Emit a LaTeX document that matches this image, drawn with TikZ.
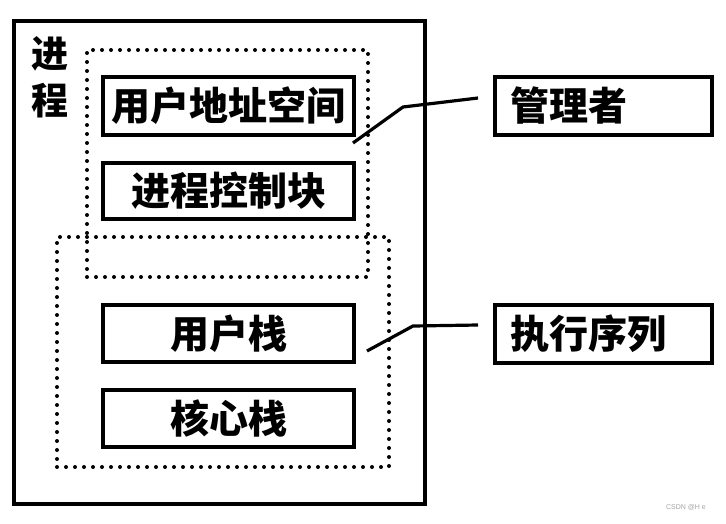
\documentclass[tikz,border=0pt]{standalone}
\usepackage{fontspec}
\setmainfont{Liberation Sans}
\newfontfamily\cjk{Noto Sans CJK SC}
\begin{document}
\begin{tikzpicture}[x=1pt,y=-1pt,
  solidbox/.style={draw,line width=4pt,rectangle,inner sep=0pt,fill=white,
    font=\cjk\bfseries\fontsize{39}{42}\selectfont},
  sidebox/.style={solidbox,inner xsep=15pt,text width=187pt,align=left,
    minimum width=217pt,minimum height=58pt},
  midbox/.style={solidbox,minimum width=251pt},
  dotbox/.style={draw,line width=4pt,line cap=round,dash pattern=on 0pt off 9pt,
    rectangle,inner sep=0pt},
  conn/.style={line width=3.2pt}]
\useasboundingbox (0,0) rectangle (726,523);
% outer process box
\node[draw,line width=4pt,rectangle,inner sep=0pt,minimum width=411pt,minimum height=483pt]
  (proc) at (219.5,262.5) {};
\node[font=\cjk\bfseries\fontsize{37}{47}\selectfont,align=center,inner sep=0pt] (plabel) at (50,77) {进\\程};
% dotted groups
\node[dotbox,minimum width=281pt,minimum height=227pt] (mgr) at (227.5,163.5) {};
\node[dotbox,minimum width=332pt,minimum height=230pt] (exe) at (223,352) {};
% inner boxes
\node[midbox,minimum height=58pt] (uas) at (228.5,106) {用户地址空间};
\node[midbox,minimum height=56pt] (pcb) at (228.5,191) {进程控制块};
\node[midbox,minimum height=57pt] (ustack) at (228.5,333.5) {用户栈};
\node[midbox,minimum height=57pt] (kstack) at (228.5,418.5) {核心栈};
% side labels
\node[sidebox] (manager) at (603.5,106) {管理者};
\node[sidebox] (seq) at (603.5,334) {执行序列};
% connectors
\coordinate (m0) at (353,143);
\coordinate (m1) at (403,107);
\coordinate (m2) at (478,98);
\draw[conn] (m0) -- (m1) -- (m2);
\coordinate (s0) at (367,351);
\coordinate (s1) at (413,326);
\coordinate (s2) at (478,325);
\draw[conn] (s0) -- (s1) -- (s2);
% watermark
\node[font=\fontsize{7}{8}\selectfont,text=gray!70,inner sep=0pt] (wm) at (686,507) {CSDN @H e};
\end{tikzpicture}
\end{document}
